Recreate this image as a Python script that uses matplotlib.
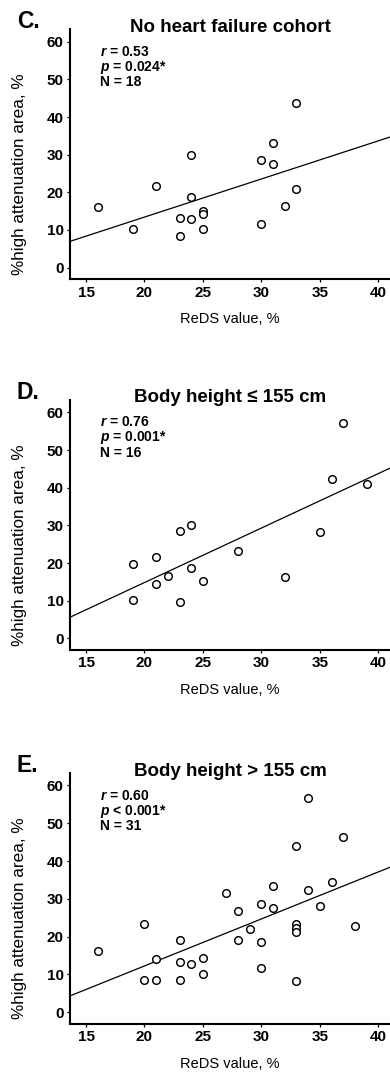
import numpy as np
import matplotlib
matplotlib.use("Agg")
import matplotlib.pyplot as plt

plt.rcParams['font.family'] = ['Liberation Sans', 'DejaVu Sans']
plt.rcParams['mathtext.fontset'] = 'custom'
plt.rcParams['mathtext.it'] = 'Liberation Sans:italic:bold'
plt.rcParams['mathtext.rm'] = 'Liberation Sans:bold'

# ------------------ DATA ------------------ #
letters = ["C.", "D.", "E."]
titles = ["No heart failure cohort", "Body height \u2264 155 cm", "Body height > 155 cm"]
stats = [
    ["$r$ = 0.53", "$p$ = 0.024*", "N = 18"],
    ["$r$ = 0.76", "$p$ = 0.001*", "N = 16"],
    ["$r$ = 0.60", "$p$ < 0.001*", "N = 31"],
]

reds_c = [16, 19, 21, 23, 23, 24, 24, 24, 25, 25, 25, 30, 30, 31, 31, 32, 33, 33]
hau_c = [16.0, 10.2, 21.6, 13.2, 8.4, 30.0, 18.7, 12.8, 15.0, 14.2, 10.2,
         28.5, 11.5, 33.1, 27.5, 16.4, 43.7, 21.0]

reds_d = [19, 19, 21, 21, 22, 23, 23, 24, 24, 25, 28, 32, 35, 36, 37, 39]
hau_d = [19.8, 10.3, 21.7, 14.5, 16.5, 28.5, 9.7, 30.2, 18.8, 15.2, 23.1,
         16.4, 28.2, 42.3, 57.3, 40.9]

reds_e = [16, 20, 20, 21, 21, 23, 23, 23, 24, 25, 25, 27, 28, 28, 29, 30, 30, 30,
          31, 31, 33, 33, 33, 33, 33, 34, 34, 35, 36, 37, 38]
hau_e = [16.1, 23.3, 8.6, 14.2, 8.6, 19.1, 13.2, 8.5, 12.7, 14.4, 10.2, 31.6,
         26.8, 19.2, 22.0, 28.7, 18.7, 11.6, 33.3, 27.6, 43.9, 23.3, 22.4, 21.2,
         8.4, 56.8, 32.3, 28.2, 34.4, 46.3, 22.7]

xs = [reds_c, reds_d, reds_e]
ys = [hau_c, hau_d, hau_e]

x_ticks = [15, 20, 25, 30, 35, 40]
y_ticks = [0, 10, 20, 30, 40, 50, 60]

# ------------------ PLOTTING ------------------ #
fig = plt.figure(figsize=(3.9, 10.72), dpi=100)
W, H = 390, 1072
# axes top / bottom in pixels
boxes = [(29.3, 279.3), (400, 650), (773, 1024)]

for k in range(3):
    top, bot = boxes[k]
    ax = fig.add_axes([70 / W, 1 - bot / H, 320 / W, (bot - top) / H])
    x = np.array(xs[k], dtype=float)
    y = np.array(ys[k], dtype=float)

    ax.plot(x, y, 'o', ms=5.5, mfc='white', mec='black', mew=1.05, zorder=3)
    slope, icpt = np.polyfit(x, y, 1)
    ax.axline((x.mean(), slope * x.mean() + icpt), slope=slope, color='black', lw=0.9, zorder=2)

    ax.set_xlim(13.63, 41.0)
    ax.set_ylim(-3.1, 63.3)
    ax.set_xticks(x_ticks)
    ax.set_yticks(y_ticks)
    for s in ['top', 'right']:
        ax.spines[s].set_visible(False)
    for s in ['left', 'bottom']:
        ax.spines[s].set_linewidth(1.5)
    ax.tick_params(axis='both', length=2.5, width=0.9, pad=2, labelsize=11)
    for lab in ax.get_xticklabels() + ax.get_yticklabels():
        lab.set_fontweight('bold')

    ax.set_ylabel("%high attenuation area, %", fontsize=12.3)
    ax.yaxis.set_label_coords(-0.135, 0.42)
    ax.set_xlabel("ReDS value, %", fontsize=10.5)
    ax.xaxis.set_label_coords(0.5, -0.13)

    ax.text(0.5, 0.99, titles[k], transform=ax.transAxes, ha='center', va='baseline',
            fontsize=13.5, fontweight='bold')
    ax.text(-0.166, 1.005, letters[k], transform=ax.transAxes, ha='left', va='baseline',
            fontsize=16.5, fontweight='bold')
    for j, yy in enumerate([0.910, 0.848, 0.788]):
        ax.text(0.094, yy, stats[k][j], transform=ax.transAxes, ha='left', va='center',
                fontsize=10, fontweight='bold')

fig.savefig("out.png", dpi=100)
